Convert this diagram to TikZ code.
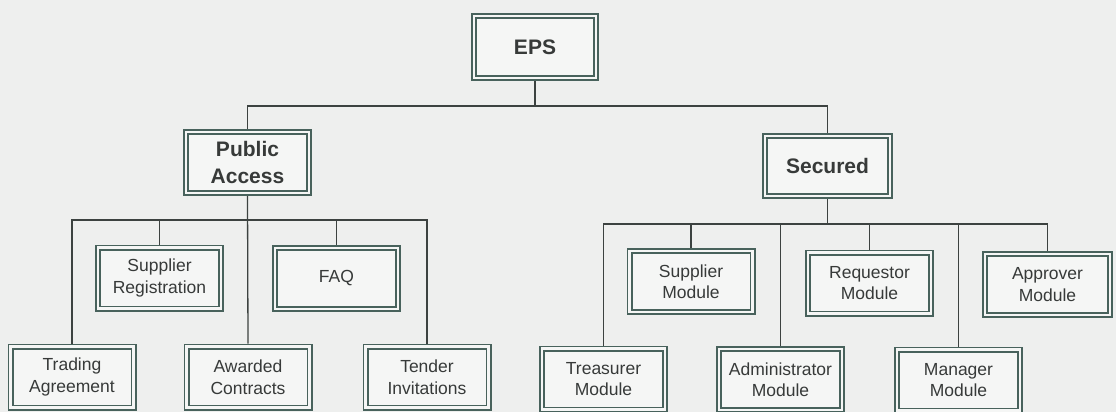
\documentclass[tikz,border=0pt]{standalone}
\usepackage{fontspec}
\setmainfont{Liberation Sans}
\definecolor{boxline}{RGB}{72,98,92}
\definecolor{wire}{RGB}{60,66,64}
\definecolor{paper}{RGB}{238,239,238}
\definecolor{boxfill}{RGB}{245,246,245}
\definecolor{ink}{RGB}{55,58,57}
\tikzset{
  unitbox/.style={draw=boxline, line width=1.6pt, double=boxfill, double distance=2.8pt,
    fill=boxfill, minimum width=123pt, minimum height=61pt, inner sep=2pt,
    outer sep=3pt, align=center, text=ink},
  headbox/.style={unitbox, font=\fontsize{21}{27}\selectfont\bfseries},
  leafbox/.style={unitbox, font=\fontsize{17.5}{21.5}\selectfont},
  wireline/.style={draw=wire, line width=1.3pt}
}
\begin{document}
\begin{tikzpicture}[x=1pt, y=-1pt]
  \fill[paper] (0,0) rectangle (1116,412);
  \useasboundingbox (0,0) rectangle (1116,412);

  % bus levels
  \coordinate (topbus) at (0,106);
  \coordinate (leftbus) at (0,220);
  \coordinate (rightbus) at (0,224);

  % root and the two branches
  \node[headbox, minimum width=122pt, minimum height=62pt] (eps) at (535,47) {EPS};
  \node[headbox] (pub) at (247.5,162.5) {Public\\Access};
  \node[headbox, minimum width=125pt, minimum height=60pt] (sec) at (827.5,166) {Secured};

  % public access pages
  \node[leafbox] (trade) at (72,377)  {Trading\\Agreement};
  \node[leafbox] (supreg) at (159.5,278) {Supplier\\Registration};
  \node[leafbox] (award) at (248,377) {Awarded\\Contracts};
  \node[leafbox] (faq) at (336.5,278.5) {FAQ};
  \node[leafbox] (tender) at (427,377) {Tender\\Invitations};

  % secured modules
  \node[leafbox] (treas) at (603.5,379) {Treasurer\\Module};
  \node[leafbox] (supmod) at (691,281.5) {Supplier\\Module};
  \node[leafbox] (admin) at (780.5,379.5) {Administrator\\Module};
  \node[leafbox] (req) at (869.5,283) {Requestor\\Module};
  \node[leafbox] (mgr) at (958.5,380) {Manager\\Module};
  \node[leafbox, minimum width=125pt] (appr) at (1047.5,284.5) {Approver\\Module};

  % root connectors
  \draw[wireline] (eps.south) -- (eps.south |- topbus);
  \draw[wireline] (pub.north) -- (pub.north |- topbus) -- (sec.north |- topbus) -- (sec.north);

  % public access connectors
  \draw[wireline] (pub.south) -- (award.north);
  \draw[wireline] (trade.north) -- (trade.north |- leftbus) -- (tender.north |- leftbus) -- (tender.north);
  \draw[wireline] (supreg.north) -- (supreg.north |- leftbus);
  \draw[wireline] (faq.north) -- (faq.north |- leftbus);

  % secured connectors
  \draw[wireline] (sec.south) -- (sec.south |- rightbus);
  \draw[wireline] (treas.north) -- (treas.north |- rightbus) -- (appr.north |- rightbus) -- (appr.north);
  \draw[wireline] (supmod.north) -- (supmod.north |- rightbus);
  \draw[wireline] (admin.north) -- (admin.north |- rightbus);
  \draw[wireline] (req.north) -- (req.north |- rightbus);
  \draw[wireline] (mgr.north) -- (mgr.north |- rightbus);
\end{tikzpicture}
\end{document}
